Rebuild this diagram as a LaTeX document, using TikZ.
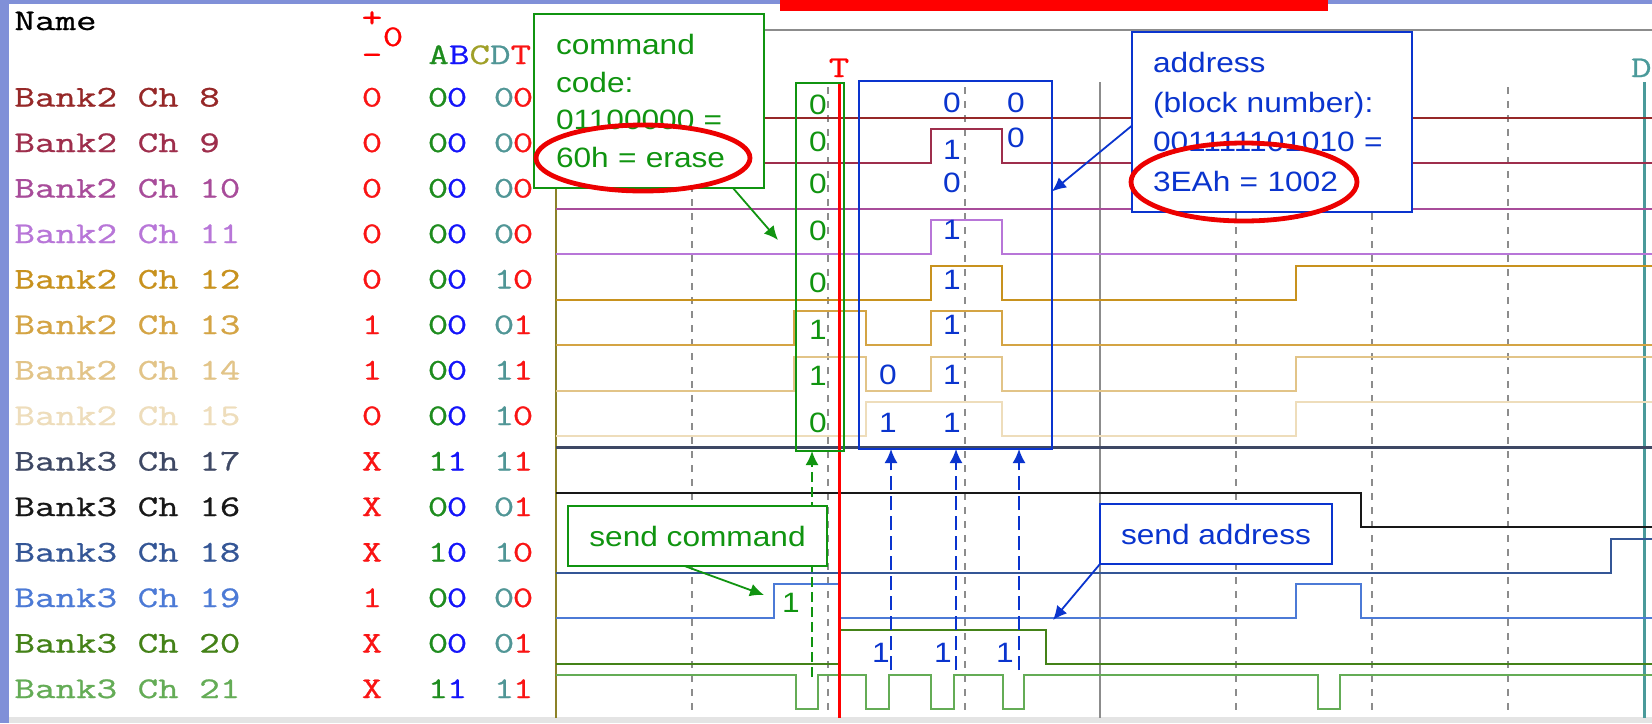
\documentclass[tikz,border=0pt]{standalone}
\usepackage{fontspec}
\setmainfont{Liberation Sans}
\newfontfamily\annot[FakeStretch=1.13]{Liberation Sans}
\newfontfamily\chanfont[FakeStretch=1.33,FakeBold=0.8]{Latin Modern Mono}
\usetikzlibrary{arrows.meta,calc}

% frame and grid
\definecolor{frameblue}{RGB}{128,144,216}
\definecolor{bottomgray}{RGB}{228,228,228}
\definecolor{gridgray}{RGB}{140,140,140}
\definecolor{axisolive}{RGB}{140,130,40}
\definecolor{cursorteal}{RGB}{74,154,154}
% annotations
\definecolor{annGreen}{RGB}{16,148,16}
\definecolor{annBlue}{RGB}{10,52,206}
\definecolor{ringRed}{RGB}{236,0,0}
% column header letters
\definecolor{hA}{RGB}{30,140,30}
\definecolor{hB}{RGB}{20,20,250}
\definecolor{hC}{RGB}{160,160,40}
\definecolor{hD}{RGB}{80,150,150}
\definecolor{hT}{RGB}{250,20,20}
% channel colours
\definecolor{c08}{RGB}{150,40,40}
\definecolor{c09}{RGB}{158,46,76}
\definecolor{c10}{RGB}{168,76,154}
\definecolor{c11}{RGB}{184,118,216}
\definecolor{c12}{RGB}{200,146,30}
\definecolor{c13}{RGB}{212,164,68}
\definecolor{c14}{RGB}{226,196,136}
\definecolor{c15}{RGB}{238,221,187}
\definecolor{c17}{RGB}{62,72,100}
\definecolor{c16}{RGB}{24,24,24}
\definecolor{c18}{RGB}{52,86,150}
\definecolor{c19}{RGB}{76,122,214}
\definecolor{c20}{RGB}{68,130,24}
\definecolor{c21}{RGB}{100,172,86}

\begin{document}
\begin{tikzpicture}[x=0.5pt,y=-0.5pt,
  chan/.style={font=\chanfont\fontsize{15}{17}\selectfont, inner sep=0pt, anchor=base west},
  chanc/.style={font=\chanfont\fontsize{15}{17}\selectfont, inner sep=0pt, anchor=base},
  note/.style={font=\annot\fontsize{14}{17}\selectfont, inner sep=0pt},
  wave/.style={line width=1pt, line join=miter},
  gridd/.style={draw=gridgray, line width=1.3pt, dash pattern=on 3.5pt off 3.5pt},
  grids/.style={draw=gridgray, line width=1pt},
  gframe/.style={draw=annGreen, line width=1pt, inner sep=0pt, outer sep=0pt},
  bframe/.style={draw=annBlue, line width=1pt, inner sep=0pt, outer sep=0pt},
  arr/.style={-{Latex[length=7pt,width=6.5pt]}, line width=0.9pt},
  ring/.style={draw=ringRed, line width=2.4pt},
]
\useasboundingbox (0,0) rectangle (1652,723);
\clip (0,0) rectangle (1652,723);
\fill[white] (0,0) rectangle (1652,723);

% window frame
\fill[frameblue] (0,0) rectangle (1652,4);
\fill[frameblue] (0,0) rectangle (9,723);
\fill[bottomgray] (9,717) rectangle (1652,723);
\fill[red] (780,0) rectangle (1328,11);

% header of the channel list
\node[chan, text=black] (hname) at (14,30) {Name};
\node[chanc, text=red] (hplus) at (372,27) {+};
\node[chanc, text=red] (hzero) at (393,46) {0};
\node[chanc, text=red] (hminus) at (372,64) {–};
\node[chan] (hletters) at (428,64) {\color{hA}A\color{hB}B\color{hC}C\color{hD}D\color{hT}T};

% channel names and states
\foreach \i/\nm/\cl/\v/\a/\b/\c/\d in {
  0/Bank2 Ch 8/c08/0/0/0/0/0,
  1/Bank2 Ch 9/c09/0/0/0/0/0,
  2/Bank2 Ch 10/c10/0/0/0/0/0,
  3/Bank2 Ch 11/c11/0/0/0/0/0,
  4/Bank2 Ch 12/c12/0/0/0/1/0,
  5/Bank2 Ch 13/c13/1/0/0/0/1,
  6/Bank2 Ch 14/c14/1/0/0/1/1,
  7/Bank2 Ch 15/c15/0/0/0/1/0,
  8/Bank3 Ch 17/c17/X/1/1/1/1,
  9/Bank3 Ch 16/c16/X/0/0/0/1,
  10/Bank3 Ch 18/c18/X/1/0/1/0,
  11/Bank3 Ch 19/c19/1/0/0/0/0,
  12/Bank3 Ch 20/c20/X/0/0/0/1,
  13/Bank3 Ch 21/c21/X/1/1/1/1}{
  \pgfmathsetmacro{\yb}{106.5+45.5*\i}
  \node[chan, text=\cl] (name\i) at (14,\yb) {\nm};
  \node[chanc, text=hT] (val\i) at (372,\yb) {\v};
  \node[chanc, text=hA] (sa\i) at (438,\yb) {\a};
  \node[chanc, text=hB] (sb\i) at (457,\yb) {\b};
  \node[chanc, text=hD] (sc\i) at (504,\yb) {\c};
  \node[chanc, text=hT] (sd\i) at (523,\yb) {\d};
}

% time grid
\draw[gridgray, line width=1pt] (556,30) -- (1652,30);
\draw[axisolive, line width=1pt] (556,30) -- (556,718);
\foreach \x in {692,828,965,1236,1372,1508}
  \draw[gridd] (\x,87) -- (\x,716);
\draw[grids] (1100,82) -- (1100,718);
\draw[cursorteal, line width=1.5pt] (1644,82) -- (1644,718);
\node[chan, anchor=base east, text=cursorteal] (dlabel) at (1652,77) {D};

% waveforms
\draw[wave, c08] (556,117.5) -- (1652,117.5);
\draw[wave, c09] (556,163) -- (931,163) -- (931,129) -- (1002,129) -- (1002,163) -- (1652,163);
\draw[wave, c10] (556,208.5) -- (1652,208.5);
\draw[wave, c11] (556,254) -- (931,254) -- (931,220) -- (1002,220) -- (1002,254) -- (1652,254);
\draw[wave, c12] (556,299.5) -- (931,299.5) -- (931,265.5) -- (1002,265.5) -- (1002,299.5)
  -- (1296,299.5) -- (1296,265.5) -- (1652,265.5);
\draw[wave, c13] (556,345) -- (794,345) -- (794,311) -- (866,311) -- (866,345) -- (931,345)
  -- (931,311) -- (1002,311) -- (1002,345) -- (1652,345);
\draw[wave, c14] (556,390.5) -- (794,390.5) -- (794,356.5) -- (866,356.5) -- (866,390.5)
  -- (931,390.5) -- (931,356.5) -- (1002,356.5) -- (1002,390.5) -- (1296,390.5)
  -- (1296,356.5) -- (1652,356.5);
\draw[wave, c15] (556,436) -- (866,436) -- (866,402) -- (1002,402) -- (1002,436)
  -- (1296,436) -- (1296,402) -- (1652,402);
\draw[wave, c17, line width=1.6pt] (556,447.5) -- (1652,447.5);
\draw[wave, c16] (556,493) -- (1361,493) -- (1361,527) -- (1652,527);
\draw[wave, c18] (556,572.5) -- (1611,572.5) -- (1611,538.5) -- (1652,538.5);
\draw[wave, c19] (556,618) -- (774,618) -- (774,584) -- (839,584) -- (839,618)
  -- (1296,618) -- (1296,584) -- (1361,584) -- (1361,618) -- (1652,618);
\draw[wave, c20] (556,663.5) -- (839,663.5) -- (839,629.5) -- (1046,629.5) -- (1046,663.5)
  -- (1652,663.5);
\draw[wave, c21] (556,675) -- (796,675) -- (796,709) -- (818,709) -- (818,675)
  -- (866,675) -- (866,709) -- (889,709) -- (889,675)
  -- (931,675) -- (931,709) -- (954,709) -- (954,675)
  -- (1003,675) -- (1003,709) -- (1024,709) -- (1024,675)
  -- (1318,675) -- (1318,709) -- (1340,709) -- (1340,675) -- (1652,675);

% trigger cursor
\draw[red, line width=1.5pt] (839,82) -- (839,718);
\node[chanc, text=red] (tlabel) at (839,77) {T};

% command bits
\node[gframe, minimum width=24pt, minimum height=184pt] (ccol) at (820,267) {};
\foreach \y/\b [count=\k] in {105/0,142/0,184/0,231/0,283/0,330/1,376/1,423/0}
  \node[note, text=annGreen] (cbit\k) at (818,\y) {\b};

% address bits
\node[bframe, minimum width=96.5pt, minimum height=184pt] (abox) at (955.5,265) {};
\foreach \x/\y/\b [count=\k] in {952/103/0,1016/103/0,952/150/1,1016/138/0,952/183/0,
    952/230/1,952/280/1,952/325/1,888/375/0,952/375/1,888/423/1,952/423/1}
  \node[note, text=annBlue] (abit\k) at (\x,\y) {\b};

% command code callout
\node[gframe, fill=white, minimum width=115pt, minimum height=87pt, text width=93pt,
  align=left, text=annGreen, font=\annot\fontsize{14}{18.85}\selectfont] (cmd) at (649,101)
  {command\\code:\\01100000 =\\60h = erase};
\draw[ring] (643,158) ellipse [x radius=53.5pt, y radius=16.5pt];
\coordinate (cmdtip) at (778,240);
\draw[arr, annGreen] ($(cmd.south west)!0.865!(cmd.south east)$) -- (cmdtip);

% address callout
\node[bframe, fill=white, minimum width=140pt, minimum height=90pt, text width=119pt,
  align=left, text=annBlue, font=\annot\fontsize{14}{19.8}\selectfont] (addr) at (1272,122)
  {address\\(block number):\\001111101010 =\\3EAh = 1002};
\draw[ring] (1244,182) ellipse [x radius=56.5pt, y radius=19.5pt];
\draw[arr, annBlue] ($(addr.north west)!0.52!(addr.south west)$)
  -- ($(abox.north east)!0.3!(abox.south east)$);

% strobe markers
\coordinate (gstart) at (812,677);
\draw[arr, annGreen, dash pattern=on 5pt off 2.5pt] (gstart) -- (gstart |- ccol.south);
\foreach \x [count=\k] in {891,956,1019}{
  \coordinate (bstart\k) at (\x,670);
  \draw[arr, annBlue, dash pattern=on 7pt off 3pt] (bstart\k) -- (bstart\k |- abox.south);
}

% send command callout
\node[gframe, fill=white, minimum width=129.5pt, minimum height=30pt, text=annGreen,
  note] (scmd) at (697.5,536) {send command};
\coordinate (cmdpulse) at (764,595);
\draw[arr, annGreen] ($(scmd.south west)!0.45!(scmd.south east)$) -- (cmdpulse);
\node[note, text=annGreen] (cmdone) at (791,603) {1};

% send address callout
\node[bframe, fill=white, minimum width=116pt, minimum height=30pt, text=annBlue,
  note] (saddr) at (1216,534) {send address};
\coordinate (addrpulse) at (1053,620);
\draw[arr, annBlue] (saddr.south west) -- (addrpulse);
\foreach \x [count=\k] in {881,943,1005}
  \node[note, text=annBlue] (aone\k) at (\x,653) {1};
\end{tikzpicture}
\end{document}
